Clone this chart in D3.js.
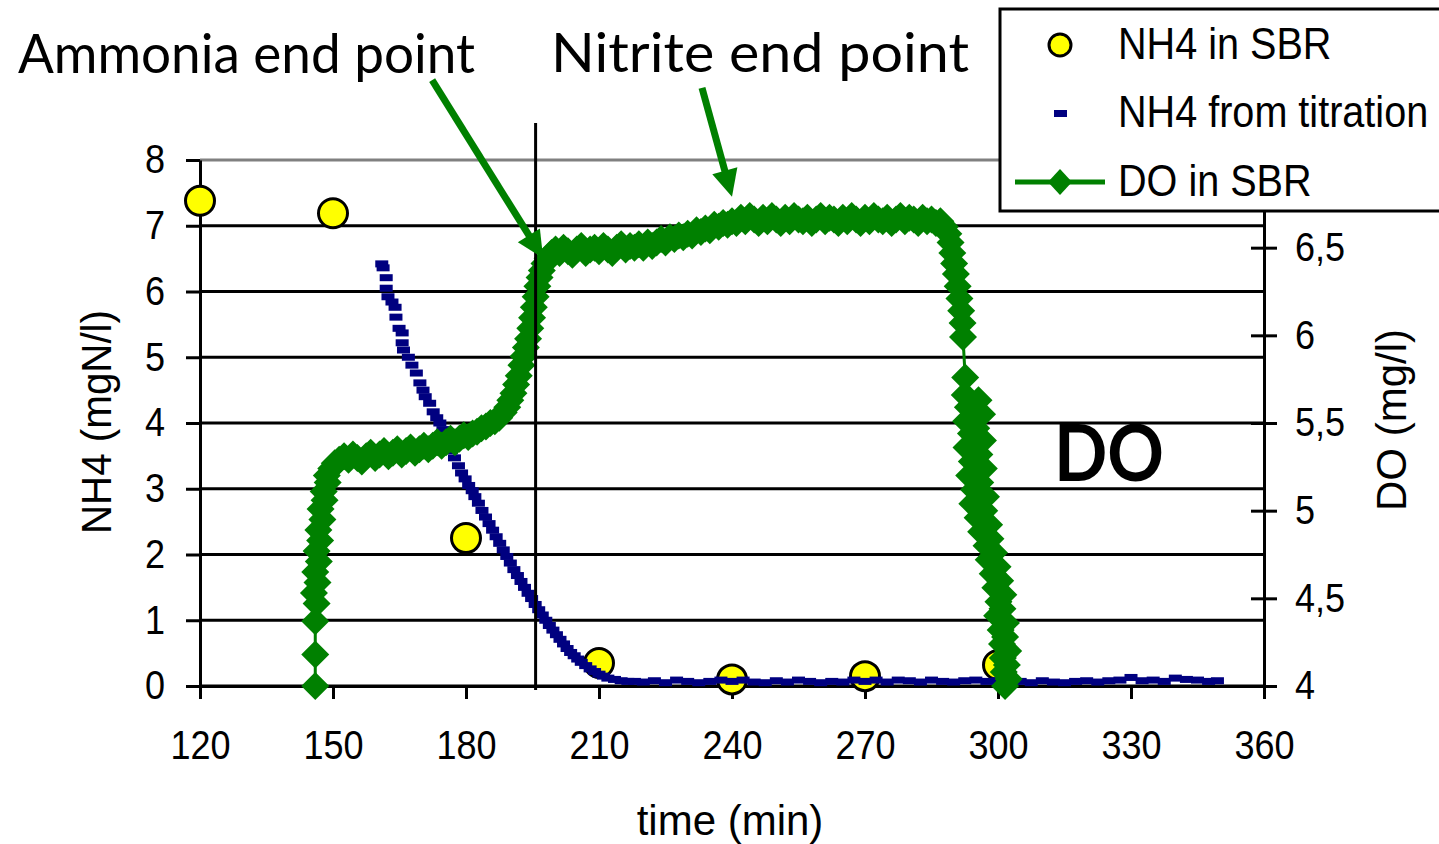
<!DOCTYPE html>
<html>
<head>
<meta charset="utf-8">
<script src="https://cdn.jsdelivr.net/npm/d3@7/dist/d3.min.js"></script>
<style>
  body { margin: 0; background: #fff; }
  text { font-family: "Liberation Sans", Arial, sans-serif; fill: #000; }
  .hand { font-family: "Comic Sans MS", Lato, "Open Sans", sans-serif; }
</style>
</head>
<body>
<div id="chart"></div>
<script>
// ---- data ----
const timeTicks = [120, 150, 180, 210, 240, 270, 300, 330, 360];
const nh4Ticks = [0, 1, 2, 3, 4, 5, 6, 7, 8];
const doTicks = [4, 4.5, 5, 5.5, 6, 6.5];

// NH4 measured in the SBR (mgN/l), left axis
const nh4Sbr = [[120, 7.38], [150, 7.19], [180, 2.25], [210, 0.35], [240, 0.10], [270, 0.15], [300, 0.32]];

// NH4 from titration (mgN/l), left axis
const nh4Titration = [
  [161.0, 6.42], [161.3, 6.36], [162.0, 6.21], [162.0, 6.05], [162.4, 5.92], [163.3, 5.84], [164.0, 5.76],
  [164.2, 5.61], [164.9, 5.44], [165.6, 5.37], [165.6, 5.22], [165.9, 5.11], [167.0, 5.00], [167.8, 4.88],
  [168.8, 4.76], [169.6, 4.61], [170.3, 4.50], [170.8, 4.40], [171.8, 4.30], [172.6, 4.17], [173.4, 4.08],
  [174.1, 4.00], [174.8, 3.90], [175.5, 3.80], [176.0, 3.70], [176.7, 3.58], [177.4, 3.47], [178.3, 3.35],
  [179.0, 3.24], [179.8, 3.15], [180.6, 3.05], [181.4, 2.97], [182.0, 2.88], [182.8, 2.78], [183.6, 2.67],
  [184.4, 2.57], [185.2, 2.47], [186.0, 2.37], [186.8, 2.27], [187.6, 2.17], [188.4, 2.07], [189.2, 1.97],
  [190.0, 1.87], [190.8, 1.77], [191.6, 1.68], [192.4, 1.59], [193.2, 1.50], [194.0, 1.41], [194.8, 1.33],
  [195.6, 1.24], [196.4, 1.16], [197.2, 1.08], [198.0, 1.00], [198.8, 0.92], [199.6, 0.85], [200.4, 0.78],
  [201.2, 0.71], [202.0, 0.64], [202.8, 0.57], [203.6, 0.51], [204.4, 0.46], [205.2, 0.41], [206.0, 0.36],
  [207.0, 0.31], [208.0, 0.26], [209.0, 0.22], [210.0, 0.18], [211.0, 0.15], [212.0, 0.12], [213.5, 0.10],
  [215.0, 0.08], [216.5, 0.07], [218.0, 0.07], [220.0, 0.06], [222.5, 0.08], [225.0, 0.05], [227.5, 0.09],
  [230.0, 0.07], [232.5, 0.05], [235.0, 0.07], [237.5, 0.09], [240.0, 0.07], [242.5, 0.09], [245.0, 0.06],
  [247.5, 0.05], [250.0, 0.08], [252.5, 0.06], [255.0, 0.09], [257.5, 0.07], [260.0, 0.05], [262.5, 0.07],
  [265.0, 0.06], [267.5, 0.09], [270.0, 0.07], [272.5, 0.09], [275.0, 0.06], [277.5, 0.09], [280.0, 0.08],
  [282.5, 0.06], [285.0, 0.09], [287.5, 0.07], [290.0, 0.06], [292.5, 0.08], [295.0, 0.09], [297.5, 0.07],
  [300.0, 0.08], [302.5, 0.09], [305.0, 0.07], [307.5, 0.05], [310.0, 0.08], [312.5, 0.06], [315.0, 0.05],
  [317.5, 0.07], [320.0, 0.08], [322.5, 0.06], [325.0, 0.08], [327.5, 0.09], [330.0, 0.13], [332.5, 0.08],
  [335.0, 0.09], [337.5, 0.07], [340.0, 0.12], [342.5, 0.10], [345.0, 0.09], [347.5, 0.07], [349.5, 0.08]
];

// DO in the SBR (mg/l), right axis
const doSbr = [
  [146.0, 4.00], [146.0, 4.18], [146.0, 4.37], [146.3, 4.47], [145.7, 4.53], [146.5, 4.59], [146.0, 4.65],
  [146.8, 4.71], [146.3, 4.77], [147.1, 4.83], [146.7, 4.89], [147.6, 4.95], [147.2, 5.01], [148.1, 5.06],
  [147.9, 5.11], [148.8, 5.16], [148.6, 5.20], [149.6, 5.24], [150.4, 5.27], [151.4, 5.29], [152.5, 5.31],
  [153.5, 5.29], [154.5, 5.32], [155.5, 5.30], [156.5, 5.28], [157.5, 5.31], [158.5, 5.33], [159.5, 5.30],
  [160.5, 5.32], [161.5, 5.34], [162.5, 5.31], [163.5, 5.33], [164.5, 5.35], [165.5, 5.32], [166.5, 5.34],
  [167.5, 5.36], [168.5, 5.33], [169.5, 5.35], [170.5, 5.37], [171.5, 5.35], [172.5, 5.37], [173.5, 5.39],
  [174.5, 5.37], [175.5, 5.39], [176.5, 5.41], [177.5, 5.39], [178.5, 5.41], [179.5, 5.43], [180.5, 5.42],
  [181.5, 5.44], [182.5, 5.45], [183.5, 5.47], [184.5, 5.48], [185.5, 5.50], [186.5, 5.51], [187.5, 5.53],
  [188.5, 5.56], [189.3, 5.59], [190.0, 5.63], [190.7, 5.67], [191.3, 5.72], [191.9, 5.77], [192.5, 5.83],
  [193.0, 5.88], [193.5, 5.93], [194.0, 5.98], [194.5, 6.04], [194.9, 6.10], [195.3, 6.16], [195.7, 6.22],
  [196.1, 6.28], [196.6, 6.33], [197.1, 6.37], [197.7, 6.41], [198.4, 6.44], [199.3, 6.47], [200.2, 6.49],
  [201.1, 6.47], [202.0, 6.50], [203.0, 6.48], [204.0, 6.46], [205.0, 6.49], [206.0, 6.51], [207.0, 6.47],
  [208.0, 6.49], [209.0, 6.50], [210.0, 6.48], [211.0, 6.51], [212.0, 6.49], [213.0, 6.47], [214.0, 6.50],
  [215.0, 6.52], [216.0, 6.49], [217.0, 6.51], [218.0, 6.50], [219.0, 6.52], [220.0, 6.50], [221.0, 6.53],
  [222.0, 6.51], [223.0, 6.53], [224.0, 6.55], [225.0, 6.53], [226.0, 6.56], [227.0, 6.55], [228.0, 6.57],
  [229.0, 6.56], [230.0, 6.58], [231.0, 6.57], [232.0, 6.60], [233.0, 6.59], [234.0, 6.61], [235.0, 6.60],
  [236.0, 6.63], [237.0, 6.62], [238.0, 6.64], [239.0, 6.63], [240.0, 6.65], [241.0, 6.64], [242.0, 6.67],
  [243.0, 6.65], [244.0, 6.68], [245.0, 6.66], [246.0, 6.64], [247.0, 6.67], [248.0, 6.65], [249.0, 6.68],
  [250.0, 6.66], [251.0, 6.64], [252.0, 6.67], [253.0, 6.65], [254.0, 6.68], [255.0, 6.66], [256.0, 6.65],
  [257.0, 6.67], [258.0, 6.64], [259.0, 6.66], [260.0, 6.68], [261.0, 6.65], [262.0, 6.67], [263.0, 6.66],
  [264.0, 6.64], [265.0, 6.67], [266.0, 6.65], [267.0, 6.68], [268.0, 6.66], [269.0, 6.64], [270.0, 6.67],
  [271.0, 6.65], [272.0, 6.68], [273.0, 6.66], [274.0, 6.65], [275.0, 6.67], [276.0, 6.64], [277.0, 6.66],
  [278.0, 6.68], [279.0, 6.65], [280.0, 6.67], [281.0, 6.66], [282.0, 6.64], [283.0, 6.67], [284.0, 6.65],
  [285.0, 6.66], [286.0, 6.64], [287.0, 6.65], [288.0, 6.62], [288.8, 6.58], [289.3, 6.53], [289.7, 6.47],
  [290.1, 6.41], [290.5, 6.35], [290.9, 6.28], [291.3, 6.21], [291.7, 6.14], [292.0, 6.07], [292.1, 5.99],
  [292.6, 5.76], [292.5, 5.66], [295.6, 5.63], [293.2, 5.59], [296.4, 5.55], [292.8, 5.51], [295.1, 5.47],
  [293.9, 5.44], [296.6, 5.40], [292.9, 5.36], [295.8, 5.32], [294.1, 5.28], [296.8, 5.24], [293.5, 5.20],
  [296.0, 5.16], [294.6, 5.12], [297.3, 5.08], [294.2, 5.04], [296.9, 5.00], [295.4, 4.96], [298.0, 4.92],
  [296.2, 4.88], [298.3, 4.84], [297.4, 4.80], [299.1, 4.76], [297.9, 4.72], [299.9, 4.68], [298.8, 4.64],
  [300.5, 4.60], [299.4, 4.56], [301.2, 4.52], [300.1, 4.48], [301.0, 4.44], [299.8, 4.40], [301.8, 4.36],
  [300.6, 4.32], [301.6, 4.28], [300.9, 4.24], [302.3, 4.20], [301.1, 4.16], [302.0, 4.12], [301.3, 4.08],
  [302.4, 4.04], [301.6, 4.00]
];

const ammoniaEndTime = 195.7;
// arrow tip in data units (time, DO) and tail offset in px
const callouts = [
  {label: "Ammonia end point", t: 197.4, v: 6.44, dx: -111, dy: -178},
  {label: "Nitrite end point", t: 240.0, v: 6.79, dx: -30, dy: -109}
];
const legendLabels = ["NH4 in SBR", "NH4 from titration", "DO in SBR"];

// ---- layout ----
const width = 1439, height = 844;
const green = "#008000", navy = "#000080", yellow = "#ffff00";

const svg = d3.select("#chart").append("svg")
  .attr("width", width).attr("height", height)
  .style("background", "#fff");

const x = d3.scaleLinear().domain([120, 360]).range([200, 1264]);
const yL = d3.scaleLinear().domain([0, 8]).range([686, 160]);
const yR = d3.scaleLinear().domain([4, 7]).range([686, 160]);

function squeeze(sel, ratio) {
  sel.each(function () {
    const w = this.getComputedTextLength();
    d3.select(this).attr("textLength", w * ratio).attr("lengthAdjust", "spacingAndGlyphs");
  });
}

// gridlines (black), top border grey
svg.append("g").selectAll("line")
  .data(nh4Ticks)
  .join("line")
  .attr("x1", x(120)).attr("x2", x(360))
  .attr("y1", d => yL(d)).attr("y2", d => yL(d))
  .attr("stroke", d => d === 8 ? "#808080" : "#000")
  .attr("stroke-width", 3);

// left axis
const axL = svg.append("g")
  .attr("transform", `translate(${x(120)},0)`)
  .call(d3.axisLeft(yL).tickValues(nh4Ticks).tickSize(14).tickSizeOuter(0).tickPadding(21));
axL.select(".domain").attr("stroke", "#000").attr("stroke-width", 3);
axL.selectAll(".tick line").attr("stroke-width", 3);
axL.selectAll(".tick text").style("font-size", "40px").style("font-family", "Liberation Sans").call(squeeze, 0.9);

// bottom axis
const axB = svg.append("g")
  .attr("transform", `translate(0,${yL(0)})`)
  .call(d3.axisBottom(x).tickValues(timeTicks).tickSize(13).tickSizeOuter(0).tickPadding(32));
axB.select(".domain").attr("stroke-width", 3);
axB.selectAll(".tick line").attr("stroke-width", 3);
axB.selectAll(".tick text").style("font-size", "40px").style("font-family", "Liberation Sans").call(squeeze, 0.9);

// right axis with crossing ticks
const axR = svg.append("g")
  .attr("transform", `translate(${x(360)},0)`)
  .call(d3.axisRight(yR).tickValues(doTicks).tickSize(13).tickSizeOuter(0).tickPadding(18)
    .tickFormat(d => String(d).replace(".", ",")));
axR.select(".domain").attr("stroke-width", 3);
axR.selectAll(".tick line").attr("x1", -13).attr("stroke-width", 3);
axR.selectAll(".tick text").style("font-size", "40px").style("font-family", "Liberation Sans").call(squeeze, 0.9);

// axis titles
svg.append("text").attr("x", 730).attr("y", 835).attr("text-anchor", "middle")
  .style("font-size", "42px").text("time (min)");
svg.append("text").attr("transform", "translate(111,422) rotate(-90)").attr("text-anchor", "middle")
  .style("font-size", "42px").text("NH4 (mgN/l)").call(squeeze, 0.96);
svg.append("text").attr("transform", "translate(1406,420) rotate(-90)").attr("text-anchor", "middle")
  .style("font-size", "42px").text("DO (mg/l)");

// series 1: NH4 in SBR
svg.append("g").selectAll("circle")
  .data(nh4Sbr)
  .join("circle")
  .attr("cx", d => x(d[0])).attr("cy", d => yL(d[1]))
  .attr("r", 14.5)
  .attr("fill", yellow).attr("stroke", "#000").attr("stroke-width", 3);

// series 2: NH4 from titration (dash markers)
svg.append("g").selectAll("rect")
  .data(nh4Titration)
  .join("rect")
  .attr("x", d => x(d[0]) - 6.5).attr("y", d => yL(d[1]) - 3.5)
  .attr("width", 13).attr("height", 7)
  .attr("fill", navy);

// series 3: DO in SBR (line + diamonds)
const diamond = "M0,-14L14,0L0,14L-14,0Z";
svg.append("path")
  .datum(doSbr)
  .attr("fill", "none").attr("stroke", green).attr("stroke-width", 3)
  .attr("d", d3.line().x(d => x(d[0])).y(d => yR(d[1])));
svg.append("g").selectAll("path")
  .data(doSbr)
  .join("path")
  .attr("d", diamond)
  .attr("transform", d => `translate(${x(d[0])},${yR(d[1])})`)
  .attr("fill", green);

// ammonia end-point marker line
svg.append("line")
  .attr("x1", x(ammoniaEndTime)).attr("x2", x(ammoniaEndTime))
  .attr("y1", yL(8) - 37).attr("y2", yL(0) + 4)
  .attr("stroke", "#000").attr("stroke-width", 3);

// callouts with arrows
callouts.forEach(c => {
  const tx = x(c.t), ty = yR(c.v);
  const sx = tx + c.dx, sy = ty + c.dy;
  const len = Math.hypot(c.dx, c.dy);
  const ux = -c.dx / len, uy = -c.dy / len;
  const headLen = 27, headHalf = 13;
  const bx = tx - ux * headLen, by = ty - uy * headLen;
  svg.append("line")
    .attr("x1", sx).attr("y1", sy).attr("x2", bx + ux * 2).attr("y2", by + uy * 2)
    .attr("stroke", green).attr("stroke-width", 7);
  svg.append("path")
    .attr("d", `M${tx},${ty}L${bx - uy * headHalf},${by + ux * headHalf}L${bx + uy * headHalf},${by - ux * headHalf}Z`)
    .attr("fill", green);
});

svg.append("text").attr("class", "hand")
  .attr("x", 18).attr("y", 73)
  .attr("textLength", 457).attr("lengthAdjust", "spacingAndGlyphs")
  .style("font-size", "54px").text(callouts[0].label);
svg.append("text").attr("class", "hand")
  .attr("x", 551).attr("y", 72)
  .attr("textLength", 418).attr("lengthAdjust", "spacingAndGlyphs")
  .style("font-size", "54px").text(callouts[1].label);

// big "DO" label in the plot
svg.append("text").attr("class", "hand")
  .attr("x", 1054).attr("y", 481)
  .attr("textLength", 110).attr("lengthAdjust", "spacingAndGlyphs")
  .style("font-size", "78px").style("font-weight", "bold").text("DO");

// legend
const lg = svg.append("g");
lg.append("rect")
  .attr("x", 1000).attr("y", 9).attr("width", 470).attr("height", 202)
  .attr("fill", "#fff").attr("stroke", "#000").attr("stroke-width", 3);
const rowY = [45, 113, 182];
lg.append("circle").attr("cx", 1060).attr("cy", rowY[0]).attr("r", 11)
  .attr("fill", yellow).attr("stroke", "#000").attr("stroke-width", 3);
lg.append("rect").attr("x", 1054).attr("y", rowY[1] - 3).attr("width", 13).attr("height", 7).attr("fill", navy);
lg.append("line").attr("x1", 1015).attr("x2", 1105).attr("y1", rowY[2]).attr("y2", rowY[2])
  .attr("stroke", green).attr("stroke-width", 5);
lg.append("path").attr("d", "M0,-13L12,0L0,13L-12,0Z")
  .attr("transform", `translate(1060,${rowY[2]})`).attr("fill", green);
// legend labels: narrow the glyphs with a horizontal scale so the box stays inside the frame
lg.selectAll("text.lab")
  .data(legendLabels)
  .join("text")
  .attr("class", "lab")
  .attr("transform", (d, i) => `translate(1118,${rowY[i] + 14}) scale(0.9,1)`)
  .style("font-size", "44px")
  .text(d => d);
</script>
</body>
</html>
